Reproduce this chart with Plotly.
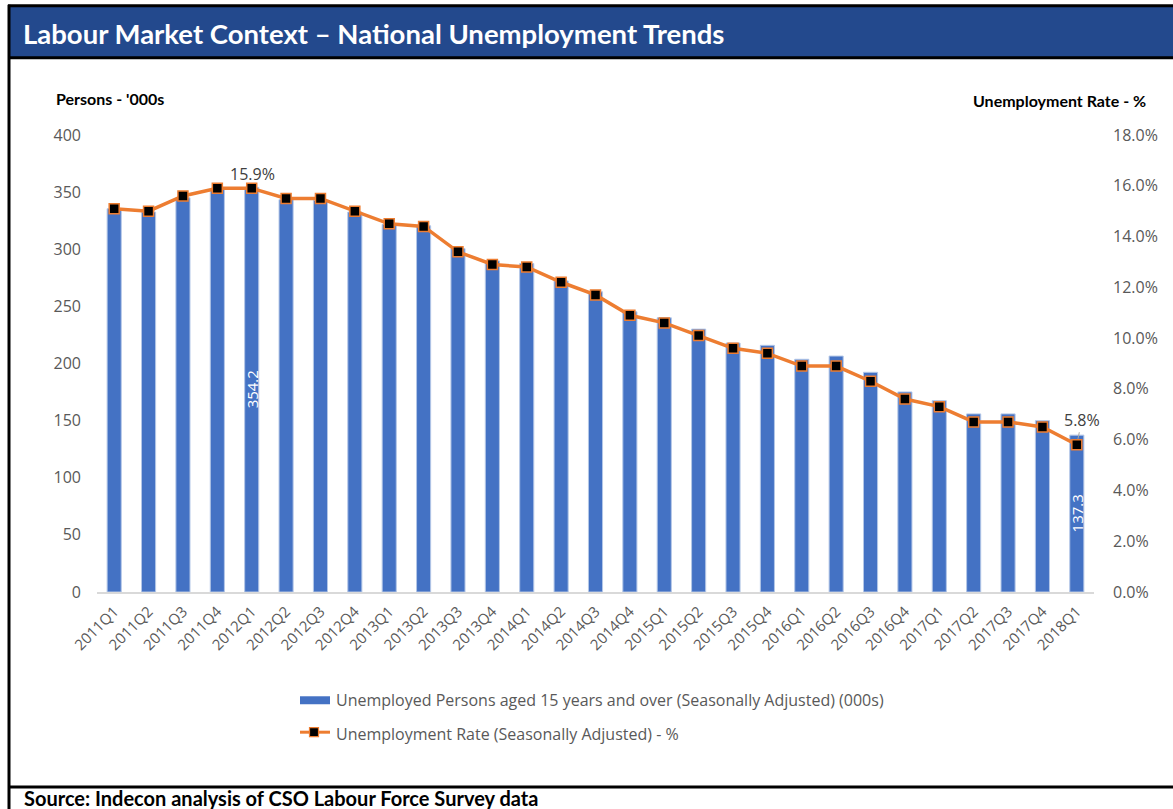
import plotly.graph_objects as go

# Quarterly series
quarters = [
    "2011Q1", "2011Q2", "2011Q3", "2011Q4",
    "2012Q1", "2012Q2", "2012Q3", "2012Q4",
    "2013Q1", "2013Q2", "2013Q3", "2013Q4",
    "2014Q1", "2014Q2", "2014Q3", "2014Q4",
    "2015Q1", "2015Q2", "2015Q3", "2015Q4",
    "2016Q1", "2016Q2", "2016Q3", "2016Q4",
    "2017Q1", "2017Q2", "2017Q3", "2017Q4",
    "2018Q1",
]
unemployed_000s = [
    335.5, 332.6, 345.0, 352.4,
    354.2, 343.4, 342.8, 332.6,
    321.8, 320.5, 300.6, 289.8,
    287.5, 272.3, 262.7, 245.2,
    240.0, 230.1, 217.9, 215.9,
    203.7, 206.5, 192.3, 175.1,
    167.5, 155.9, 155.9, 150.0,
    137.3,
]
unemployment_rate = [
    15.1, 15.0, 15.6, 15.9,
    15.9, 15.5, 15.5, 15.0,
    14.5, 14.4, 13.4, 12.9,
    12.8, 12.2, 11.7, 10.9,
    10.6, 10.1, 9.6, 9.4,
    8.9, 8.9, 8.3, 7.6,
    7.3, 6.7, 6.7, 6.5,
    5.8,
]
persons_ticks = [0, 50, 100, 150, 200, 250, 300, 350, 400]
rate_ticks = [0, 2, 4, 6, 8, 10, 12, 14, 16, 18]

# Points that carry value labels
peak_q = "2012Q1"
last_q = "2018Q1"

W, H = 1173, 809
L, R = 97, 1094          # plot area, px
TOP, BOT = 134.5, 592.5


def px(x):
    return (x - L) / (R - L)


def py(y):
    return (BOT - y) / (BOT - TOP)


BLUE = "#4472C4"
ORANGE = "#ED7D31"
GREY_TXT = "#595959"
TICK_FONT = dict(family="Open Sans", size=16, color=GREY_TXT)

fig = go.Figure()

fig.add_trace(go.Bar(
    x=quarters, y=unemployed_000s,
    name="Unemployed Persons aged 15 years and over (Seasonally Adjusted) (000s)",
    marker=dict(color=BLUE, line=dict(color="#B4C7E7", width=1)),
    width=0.41, yaxis="y", showlegend=False,
))
fig.add_trace(go.Scatter(
    x=quarters, y=unemployment_rate,
    name="Unemployment Rate (Seasonally Adjusted) - %",
    mode="lines+markers",
    line=dict(color=ORANGE, width=3.5),
    marker=dict(symbol="square", size=10, color="black",
                line=dict(color=ORANGE, width=1.5)),
    yaxis="y2", showlegend=False,
))

annotations = []

# Bar value labels, written vertically in the middle of the bar
for q in (peak_q, last_q):
    v = unemployed_000s[quarters.index(q)]
    annotations.append(dict(
        x=q, y=v / 2, xref="x", yref="y", text=f"{v:.1f}",
        textangle=-90, showarrow=False,
        font=dict(family="Open Sans", size=15, color="white"),
    ))

# Rate labels
r_peak = unemployment_rate[quarters.index(peak_q)]
annotations.append(dict(
    x=peak_q, y=r_peak, xref="x", yref="y2", text=f"{r_peak:.1f}%",
    showarrow=False, yshift=14, xshift=1,
    font=dict(family="Open Sans", size=16, color="#404040"),
))
r_last = unemployment_rate[quarters.index(last_q)]
annotations.append(dict(
    x=last_q, y=r_last, xref="x", yref="y2", text=f"{r_last:.1f}%",
    showarrow=True, arrowhead=0, arrowwidth=1, arrowcolor="#A6A6A6",
    ax=5, ay=-25, standoff=6,
    font=dict(family="Open Sans", size=16, color="#404040"),
))

# Header, axis titles, legend and source note
annotations += [
    dict(x=px(21), y=py(33), xref="paper", yref="paper", xanchor="left",
         yanchor="middle", showarrow=False,
         text="<b>Labour Market Context – National Unemployment Trends</b>",
         font=dict(family="Lato", size=27.5, color="white")),
    dict(x=px(54), y=py(98), xref="paper", yref="paper", xanchor="left",
         yanchor="middle", showarrow=False, text="<b>Persons - '000s</b>",
         font=dict(family="Lato", size=16, color="black")),
    dict(x=px(1148), y=py(100), xref="paper", yref="paper", xanchor="right",
         yanchor="middle", showarrow=False, text="<b>Unemployment Rate - %</b>",
         font=dict(family="Lato", size=16, color="black")),
    dict(x=px(334), y=py(701), xref="paper", yref="paper", xanchor="left",
         yanchor="middle", showarrow=False,
         text="Unemployed Persons aged 15 years and over (Seasonally Adjusted) (000s)",
         font=dict(family="Open Sans", size=16, color=GREY_TXT)),
    dict(x=px(334), y=py(735), xref="paper", yref="paper", xanchor="left",
         yanchor="middle", showarrow=False,
         text="Unemployment Rate (Seasonally Adjusted) - %",
         font=dict(family="Open Sans", size=16, color=GREY_TXT)),
    dict(x=px(22), y=py(799), xref="paper", yref="paper", xanchor="left",
         yanchor="middle", showarrow=False,
         text="<b>Source: Indecon analysis of CSO Labour Force Survey data</b>",
         font=dict(family="Lato", size=20, color="black")),
]

shapes = [
    # header band
    dict(type="rect", xref="paper", yref="paper", x0=px(9), x1=px(W + 5),
         y0=py(5), y1=py(57), fillcolor="#23498D", line=dict(width=0),
         layer="below"),
    dict(type="line", xref="paper", yref="paper", x0=px(8), x1=px(W + 5),
         y0=py(5), y1=py(5), line=dict(color="black", width=3)),
    dict(type="line", xref="paper", yref="paper", x0=px(8), x1=px(W + 5),
         y0=py(57), y1=py(57), line=dict(color="black", width=3)),
    # left frame and footer rule
    dict(type="line", xref="paper", yref="paper", x0=px(9), x1=px(9),
         y0=py(4), y1=py(H + 5), line=dict(color="black", width=3)),
    dict(type="line", xref="paper", yref="paper", x0=px(8), x1=px(W + 5),
         y0=py(788), y1=py(788), line=dict(color="black", width=3)),
    # legend keys
    dict(type="rect", xref="paper", yref="paper", x0=px(300), x1=px(330),
         y0=py(697), y1=py(705), fillcolor=BLUE, line=dict(width=0)),
    dict(type="line", xref="paper", yref="paper", x0=px(300), x1=px(330),
         y0=py(733), y1=py(733), line=dict(color=ORANGE, width=3)),
    dict(type="rect", xref="paper", yref="paper", x0=px(309.5), x1=px(318.5),
         y0=py(728.5), y1=py(737.5), fillcolor="black",
         line=dict(color=ORANGE, width=1.2)),
]

fig.update_layout(
    width=W, height=H,
    margin=dict(l=L, r=W - R, t=TOP, b=H - BOT, pad=0),
    paper_bgcolor="white", plot_bgcolor="white",
    bargap=0.59,
    xaxis=dict(
        type="category", tickangle=-45, showgrid=False,
        showline=True, linecolor="#D9D9D9", linewidth=1.5,
        ticks="", ticklabelstandoff=3,
        tickfont=dict(family="Open Sans", size=15, color=GREY_TXT),
        range=[-0.5, len(quarters) - 0.5], fixedrange=True,
    ),
    yaxis=dict(
        range=[0, 400], tickvals=persons_ticks, showgrid=False,
        zeroline=False, showline=False, ticks="", ticklabelstandoff=15,
        tickfont=TICK_FONT, fixedrange=True,
    ),
    yaxis2=dict(
        range=[0, 18], tickvals=rate_ticks,
        ticktext=[f"{t:.1f}%" for t in rate_ticks],
        overlaying="y", side="right", showgrid=False, zeroline=False,
        showline=False, ticks="", ticklabelstandoff=18,
        tickfont=TICK_FONT, fixedrange=True,
    ),
    annotations=annotations,
    shapes=shapes,
    showlegend=False,
)

fig.write_html("out.html", config={"displayModeBar": False})
